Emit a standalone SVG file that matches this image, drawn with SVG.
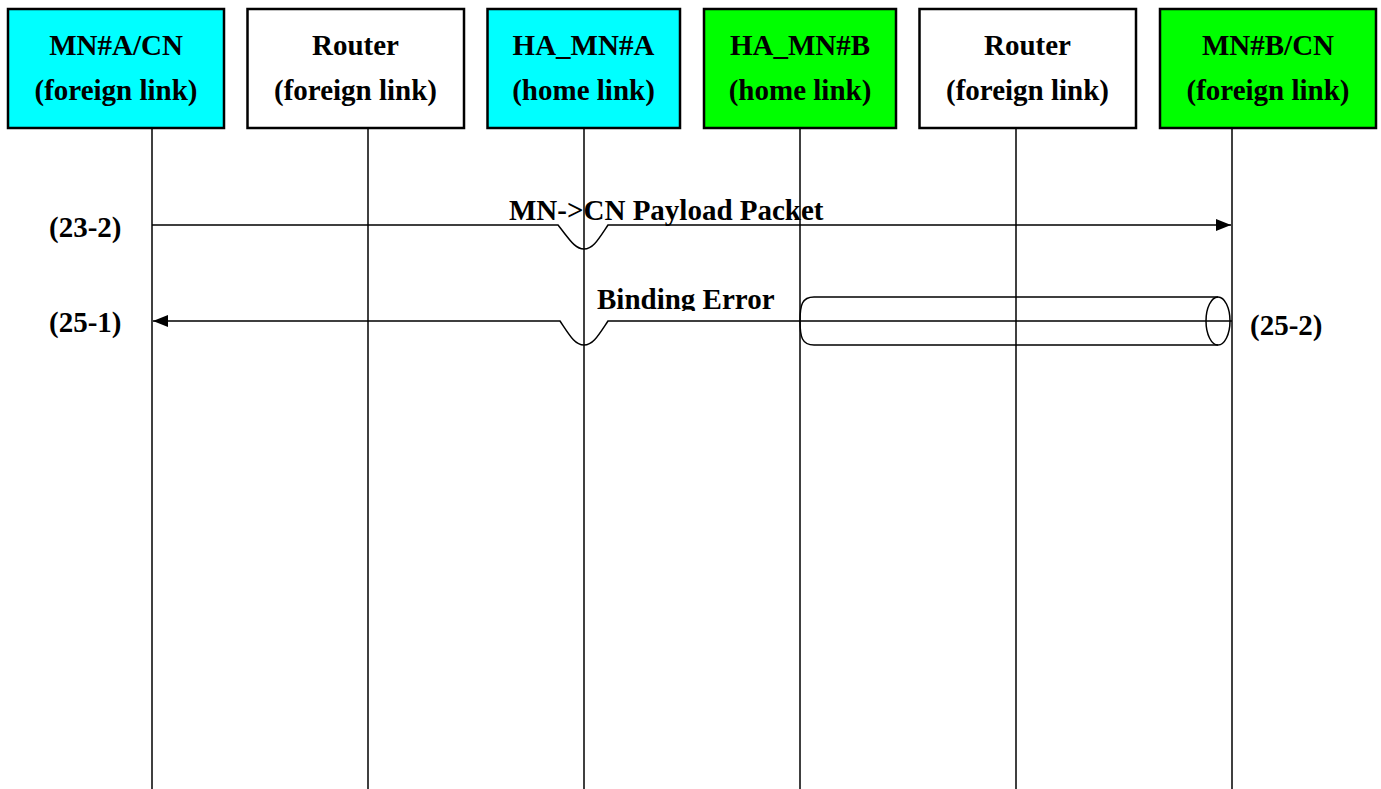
<svg xmlns="http://www.w3.org/2000/svg" width="1381" height="789" viewBox="0 0 1381 789">
<style>
.box{stroke:#000;stroke-width:2.5}
.t{font-family:"Liberation Serif","Times New Roman",serif;font-weight:bold;font-size:29px;fill:#000}
.c{text-anchor:middle}
.life{stroke:#000;stroke-width:1.5;fill:none}
.msg{stroke:#000;stroke-width:1.5;fill:none}
</style>
<defs>
<marker id="ah" markerWidth="16" markerHeight="12" refX="15" refY="6" orient="auto" markerUnits="userSpaceOnUse">
<path d="M0,0 L15,6 L0,12 Z" fill="#000"/>
</marker>
<clipPath id="clipBE"><rect x="590" y="280" width="200" height="31"/></clipPath>
</defs>
<rect width="1381" height="789" fill="#fff"/>
<g id="lifelines">
<line class="life" x1="152" y1="128" x2="152" y2="789"/>
<line class="life" x1="368" y1="128" x2="368" y2="789"/>
<line class="life" x1="584" y1="128" x2="584" y2="789"/>
<line class="life" x1="800" y1="128" x2="800" y2="789"/>
<line class="life" x1="1016" y1="128" x2="1016" y2="789"/>
<line class="life" x1="1232" y1="128" x2="1232" y2="789"/>
</g>
<g id="n1"><rect class="box" x="8" y="9" width="216" height="119" fill="#00ffff"/>
<text class="t c" x="116" y="55">MN#A/CN</text><text class="t c" x="116" y="100">(foreign link)</text></g>
<g id="n2"><rect class="box" x="247.500" y="9" width="216.5" height="119" fill="#fff"/>
<text class="t c" x="355.500" y="55">Router</text><text class="t c" x="355.500" y="100">(foreign link)</text></g>
<g id="n3"><rect class="box" x="487.500" y="9" width="192.5" height="119" fill="#00ffff"/>
<text class="t c" x="583.500" y="55">HA_MN#A</text><text class="t c" x="583.500" y="100">(home link)</text></g>
<g id="n4"><rect class="box" x="704" y="9" width="192" height="119" fill="#00ff00"/>
<text class="t c" x="800" y="55">HA_MN#B</text><text class="t c" x="800" y="100">(home link)</text></g>
<g id="n5"><rect class="box" x="919.500" y="9" width="216.5" height="119" fill="#fff"/>
<text class="t c" x="1027.500" y="55">Router</text><text class="t c" x="1027.500" y="100">(foreign link)</text></g>
<g id="n6"><rect class="box" x="1160" y="9" width="216" height="119" fill="#00ff00"/>
<text class="t c" x="1268" y="55">MN#B/CN</text><text class="t c" x="1268" y="100">(foreign link)</text></g>
<g id="connectors">
<path class="msg" d="M152,225 H558 C570,240 575,249 584,249 C593,249 598,240 608,225 H1231" marker-end="url(#ah)"/>
<path class="msg" d="M1232,321 H608 C598,336 593,345 584,345 C575,345 570,336 560,321 H153" marker-end="url(#ah)"/>
<path class="msg" d="M1218,297 H814 C802,297 800,305 800,321 C800,337 802,345 814,345 H1218"/>
<ellipse class="msg" cx="1218" cy="321" rx="12" ry="24"/>
</g>
<g id="labels">
<text class="t" x="509" y="220">MN-&gt;CN Payload Packet</text>
<text class="t" x="597" y="309" clip-path="url(#clipBE)">Binding Error</text>
<text class="t" x="49" y="237" font-size="28">(23-2)</text>
<text class="t" x="49" y="332" font-size="28">(25-1)</text>
<text class="t" x="1250" y="335" font-size="28">(25-2)</text>
</g>
</svg>
